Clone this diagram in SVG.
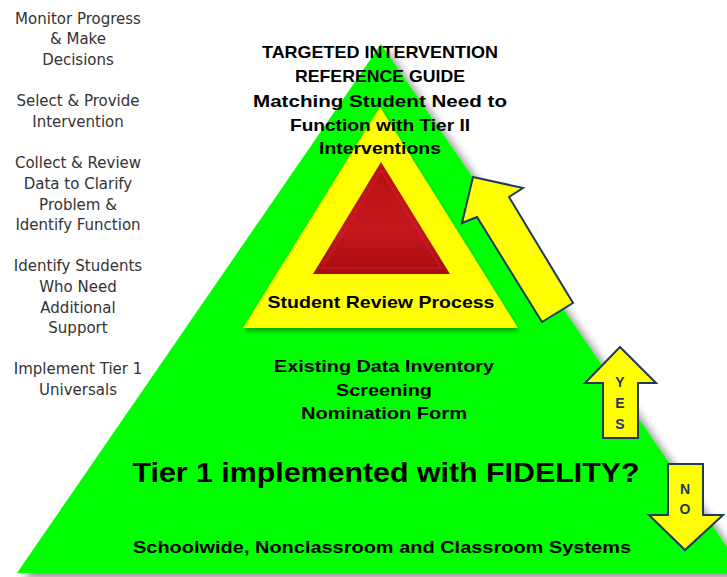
<svg xmlns="http://www.w3.org/2000/svg" width="727" height="577" viewBox="0 0 727 577">
<defs>
<filter id="sh" x="-10%" y="-10%" width="130%" height="130%">
<feGaussianBlur in="SourceAlpha" stdDeviation="4"/>
<feOffset dx="6" dy="5" result="b"/>
<feComponentTransfer><feFuncA type="linear" slope="0.45"/></feComponentTransfer>
<feMerge><feMergeNode/><feMergeNode in="SourceGraphic"/></feMerge>
</filter>
<filter id="sh2" x="-10%" y="-10%" width="130%" height="130%">
<feGaussianBlur in="SourceAlpha" stdDeviation="2"/>
<feOffset dx="1" dy="3"/>
<feComponentTransfer><feFuncA type="linear" slope="0.35"/></feComponentTransfer>
<feMerge><feMergeNode/><feMergeNode in="SourceGraphic"/></feMerge>
</filter>
<linearGradient id="red" x1="0" y1="0" x2="0" y2="1">
<stop offset="0" stop-color="#b80f14"/>
<stop offset="0.6" stop-color="#c4161c"/>
<stop offset="1" stop-color="#a80c10"/>
</linearGradient>
<style>
.side{font-family:"DejaVu Sans",sans-serif;font-size:15px;fill:#333;text-anchor:middle}
.b{font-family:"Liberation Sans",Arial,sans-serif;font-weight:bold;fill:#000;text-anchor:middle}
.arrow{fill:#ffff00;stroke:#1f3864;stroke-width:2;stroke-linejoin:miter}
.lbl{font-family:"Liberation Sans",Arial,sans-serif;font-weight:bold;font-size:14px;fill:#1f3864;text-anchor:middle}
</style>
</defs>
<rect width="727" height="577" fill="#fff"/>
<g id="tier1">
<polygon points="381,44 17,573 745,573" fill="#00ff00" filter="url(#sh)"/>
</g>
<g id="tier2">
<polygon points="380,107 243,328 518,328" fill="#ffff00" filter="url(#sh2)"/>
</g>
<g id="tier3">
<polygon points="381,162 313,274 450,274" fill="url(#red)"/>
<polygon points="381,170 322,268 441,268" fill="none" stroke="#d42a2f" stroke-opacity="0.4" stroke-width="2"/>
</g>
<g id="side-labels">
<text class="side" x="78" y="24">Monitor Progress</text>
<text class="side" x="78" y="44">&amp; Make</text>
<text class="side" x="78" y="65">Decisions</text>
<text class="side" x="78" y="106">Select &amp; Provide</text>
<text class="side" x="78" y="127">Intervention</text>
<text class="side" x="78" y="168">Collect &amp; Review</text>
<text class="side" x="78" y="189">Data to Clarify</text>
<text class="side" x="78" y="210">Problem &amp;</text>
<text class="side" x="78" y="230">Identify Function</text>
<text class="side" x="78" y="271">Identify Students</text>
<text class="side" x="78" y="292">Who Need</text>
<text class="side" x="78" y="313">Additional</text>
<text class="side" x="78" y="333">Support</text>
<text class="side" x="78" y="374">Implement Tier 1</text>
<text class="side" x="78" y="395">Universals</text>
</g>
<g id="title">
<text class="b" x="380" y="58" font-size="17" textLength="236" lengthAdjust="spacingAndGlyphs">TARGETED INTERVENTION</text>
<text class="b" x="380" y="82" font-size="17" textLength="170" lengthAdjust="spacingAndGlyphs">REFERENCE GUIDE</text>
<text class="b" x="380" y="107" font-size="17" textLength="254" lengthAdjust="spacingAndGlyphs">Matching Student Need to</text>
<text class="b" x="380" y="131" font-size="17" textLength="180" lengthAdjust="spacingAndGlyphs">Function with Tier II</text>
<text class="b" x="380" y="154" font-size="17" textLength="122" lengthAdjust="spacingAndGlyphs">Interventions</text>
</g>
<g id="student-review">
<text class="b" x="381" y="308" font-size="17" textLength="227" lengthAdjust="spacingAndGlyphs">Student Review Process</text>
</g>
<g id="data">
<text class="b" x="384" y="372" font-size="17" textLength="220" lengthAdjust="spacingAndGlyphs">Existing Data Inventory</text>
<text class="b" x="384" y="396" font-size="17" textLength="96" lengthAdjust="spacingAndGlyphs">Screening</text>
<text class="b" x="384" y="419" font-size="17" textLength="166" lengthAdjust="spacingAndGlyphs">Nomination Form</text>
</g>
<g id="fidelity">
<text class="b" x="386" y="482" font-size="27" textLength="507" lengthAdjust="spacingAndGlyphs">Tier 1 implemented with FIDELITY?</text>
</g>
<g id="systems">
<text class="b" x="382" y="553" font-size="16" textLength="498" lengthAdjust="spacingAndGlyphs">Schoolwide, Nonclassroom and Classroom Systems</text>
</g>
<g id="connectors">
<polygon class="arrow" points="473,177 523,188 509,197 573,303 542,322 477,217 462,223"/>
<g id="yes">
<polygon class="arrow" points="620,347 656,383 638,383 638,438 603,438 603,383 585,383"/>
<text class="lbl" x="620" y="387">Y</text>
<text class="lbl" x="620" y="408">E</text>
<text class="lbl" x="620" y="429">S</text>
</g>
<g id="no">
<polygon class="arrow" points="668,464 703,464 703,515 723,515 685,550 649,515 668,515"/>
<text class="lbl" x="685" y="494">N</text>
<text class="lbl" x="685" y="514">O</text>
</g>
</g>
</svg>
